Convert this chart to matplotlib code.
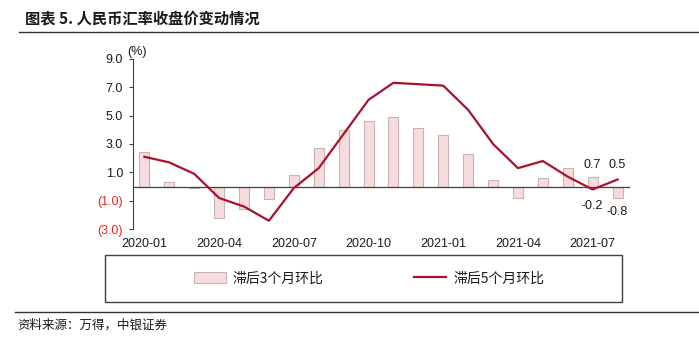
import matplotlib
matplotlib.use("Agg")
import matplotlib.pyplot as plt
from matplotlib.lines import Line2D
from matplotlib.patches import Rectangle, Patch
import numpy as np

plt.rcParams['font.family'] = ['Liberation Sans', 'Noto Sans CJK SC', 'DejaVu Sans']

months = ['2020-01', '2020-02', '2020-03', '2020-04', '2020-05', '2020-06', '2020-07',
          '2020-08', '2020-09', '2020-10', '2020-11', '2020-12', '2021-01', '2021-02',
          '2021-03', '2021-04', '2021-05', '2021-06', '2021-07', '2021-08']
lag3 = [2.4, 0.3, -0.1, -2.2, -1.6, -0.9, 0.8, 2.7, 4.0, 4.6,
        4.9, 4.1, 3.6, 2.3, 0.5, -0.8, 0.6, 1.3, 0.7, -0.8]
lag5 = [2.1, 1.7, 0.9, -0.8, -1.4, -2.4, -0.1, 1.3, 3.7, 6.1,
        7.3, 7.2, 7.1, 5.4, 3.0, 1.3, 1.8, 0.7, -0.2, 0.5]
yticks = [9, 7, 5, 3, 1, -1, -3]

bar_color = '#F6DCDC'
bar_edge = '#C9B3B3'
line_color = '#A8122C'
neg_red = '#E8262A'
txt = '#1A1A1A'

fig = plt.figure(figsize=(6.99, 3.45), dpi=100)
ax = fig.add_axes([132.7 / 699, 1 - 229.3 / 345, (630 - 132.7) / 699, (229.3 - 58.6) / 345])

x = np.arange(len(months))
ax.bar(x, lag3, width=0.4, color=bar_color, edgecolor=bar_edge, linewidth=0.8, zorder=2)
ax.axhline(0, color='#404040', linewidth=0.9, zorder=3)
ax.plot(x, lag5, color=line_color, linewidth=1.6, zorder=4)

ax.set_xlim(-0.47, len(months) - 0.5)
ax.set_ylim(-3, 9)
ax.set_yticks(yticks)
ax.set_yticklabels([f'{v:.1f}' if v >= 0 else f'({abs(v):.1f})' for v in yticks])
for lab, v in zip(ax.get_yticklabels(), yticks):
    lab.set_color(txt if v >= 0 else neg_red)
ax.set_xticks(x[::3])
ax.set_xticklabels(months[::3])
ax.tick_params(axis='y', length=3, width=0.8, color='#404040', labelsize=9, pad=4)
ax.tick_params(axis='x', length=0, labelsize=9, labelcolor=txt, pad=6)
for s in ['top', 'right', 'bottom']:
    ax.spines[s].set_visible(False)
ax.spines['left'].set_color('#404040')
ax.spines['left'].set_linewidth(0.8)
ax.annotate('(%)', (0, 1), xycoords='axes fraction', xytext=(3, 5), textcoords='offset points',
            ha='center', va='center', fontsize=9, color=txt)

# data labels on the last two months
ax.annotate(f'{lag3[-2]:.1f}', (x[-2], lag3[-2]), xytext=(0, 8.6), textcoords='offset points',
            ha='center', va='center', fontsize=9, color=txt)
ax.annotate(f'{lag5[-1]:.1f}', (x[-1], lag5[-1]), xytext=(0, 10.8), textcoords='offset points',
            ha='center', va='center', fontsize=9, color=txt)
ax.annotate(f'{lag5[-2]:.1f}', (x[-2], lag5[-2]), xytext=(0, -12.2), textcoords='offset points',
            ha='center', va='center', fontsize=9, color=txt)
ax.annotate(f'{lag3[-1]:.1f}', (x[-1], lag3[-1]), xytext=(0, -10), textcoords='offset points',
            ha='center', va='center', fontsize=9, color=txt)

# title and rules
fig.text(25 / 699, 1 - 18 / 345, '图表 5. 人民币汇率收盘价变动情况', fontsize=11, fontweight='bold',
         family=['Noto Sans CJK SC', 'DejaVu Sans'], ha='left', va='center', color=txt)
fig.add_artist(Line2D([19 / 699, 1], [1 - 32 / 345] * 2, transform=fig.transFigure,
                      color='#333333', linewidth=1.0))
fig.add_artist(Line2D([15 / 699, 1], [1 - 312 / 345] * 2, transform=fig.transFigure,
                      color='#333333', linewidth=1.0))
fig.text(17 / 699, 1 - 325 / 345, '资料来源：万得，中银证券', fontsize=9, style='italic',
         family=['Noto Sans CJK SC', 'DejaVu Sans'], ha='left', va='center', color=txt)

# legend box
bx0, bx1, by0, by1 = 105, 622, 255, 302
fig.add_artist(Rectangle((bx0 / 699, 1 - by1 / 345), (bx1 - bx0) / 699, (by1 - by0) / 345,
                         transform=fig.transFigure, fill=False, edgecolor='#404040', linewidth=1.0))
handles = [Patch(facecolor=bar_color, edgecolor=bar_edge, linewidth=0.8),
           Line2D([], [], color=line_color, linewidth=1.6)]
leg = fig.legend(handles, ['滞后3个月环比', '滞后5个月环比'], ncol=2, frameon=False,
                 loc='center', bbox_to_anchor=(369 / 699, 1 - 278.5 / 345),
                 prop={'family': ['Noto Sans CJK SC', 'DejaVu Sans'], 'size': 10},
                 handlelength=2.3, handleheight=0.8, handletextpad=0.5, columnspacing=6.5)
for t in leg.get_texts():
    t.set_color(txt)

fig.savefig('out.png', dpi=100)
